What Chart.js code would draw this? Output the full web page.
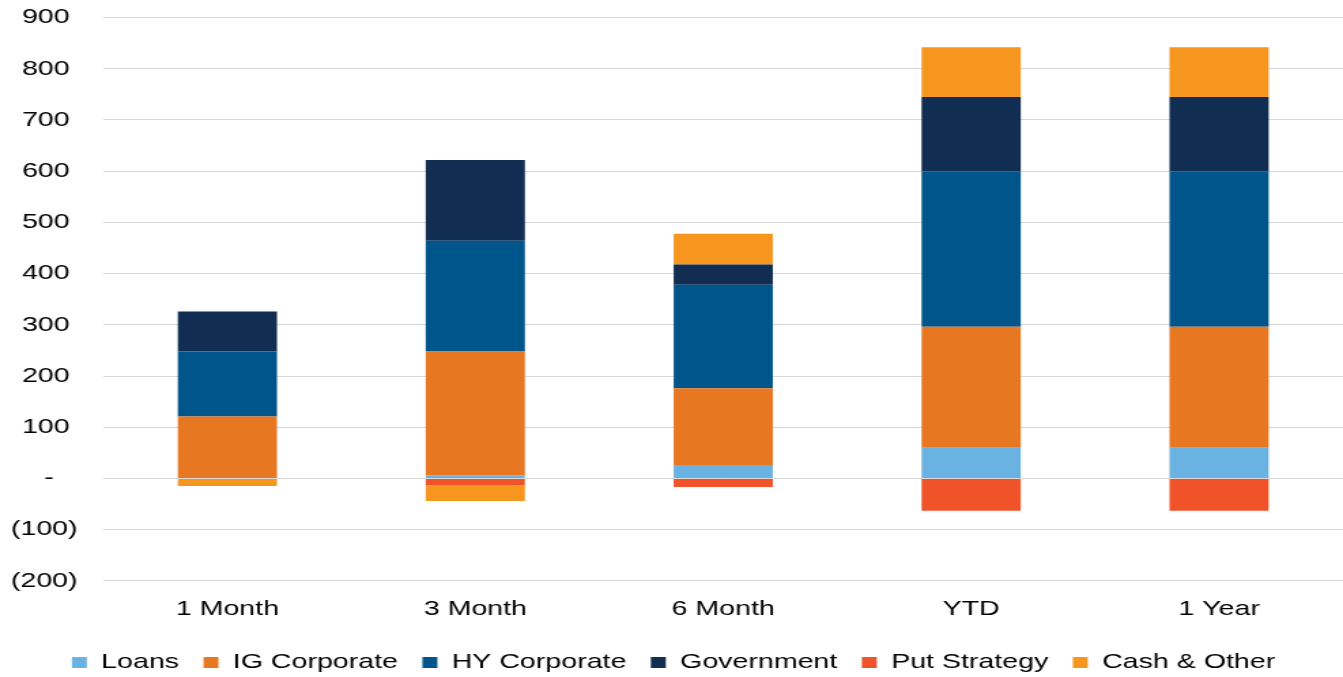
<!DOCTYPE html>
<html>
<head>
<meta charset="utf-8">
<script src="https://cdn.jsdelivr.net/npm/chart.js@4"></script>
<style>
  html, body { margin: 0; padding: 0; background: #ffffff; overflow: hidden; }
  /* el original esta estirado en horizontal: se dibuja mas angosto y se escala */
  #wrap { width: 987px; height: 677px; transform: scaleX(1.3607); transform-origin: 0 0; }
</style>
</head>
<body>
<div id="wrap"><canvas id="flows" width="987" height="677"></canvas></div>
<script>
// categorias y valores
const periods = ["1 Month", "3 Month", "6 Month", "YTD", "1 Year"];
const loans = [0, 6, 26, 60, 60];
const igCorporate = [121, 242, 150, 236, 236];
const hyCorporate = [127, 216, 202, 304, 304];
const government = [78, 158, 40, 145, 145];
const putStrategy = [0, -13, -17, -63, -63];
const cashOther = [-15, -31, 60, 97, 97];

const seriesNames = ["Loans", "IG Corporate", "HY Corporate", "Government", "Put Strategy", "Cash & Other"];
const seriesColors = ["#6AB2E2", "#E87722", "#00568A", "#112D51", "#F0522A", "#F7961E"];
const seriesValues = [loans, igCorporate, hyCorporate, government, putStrategy, cashOther];

const yTicks = [-200, -100, 0, 100, 200, 300, 400, 500, 600, 700, 800, 900];

Chart.defaults.font.family = "'Liberation Sans', Arial, sans-serif";
Chart.defaults.color = "#000000";

var ctx = document.getElementById("flows").getContext("2d");
var flowsChart = new Chart(ctx, {
  type: "bar",
  data: {
    labels: periods,
    datasets: seriesNames.map((name, i) => ({
      label: name,
      data: seriesValues[i],
      backgroundColor: seriesColors[i],
      borderWidth: 0,
      categoryPercentage: 1,
      barPercentage: 0.4,
    })),
  },
  options: {
    responsive: false,
    devicePixelRatio: 1,
    animation: false,
    layout: {
      padding: { left: 3, right: 0, top: 0, bottom: -6 },
    },
    scales: {
      x: {
        stacked: true,
        grid: { display: false },
        border: { display: false },
        ticks: { font: { size: 21 }, padding: 8 },
        afterFit: function (axis) {
          axis.height += 4; // separar un poco la leyenda
        },
      },
      y: {
        stacked: true,
        min: -200,
        max: 900,
        afterBuildTicks: function (axis) {
          axis.ticks = yTicks.map((v) => ({ value: v }));
        },
        grid: {
          color: "#D9D9D9",
          lineWidth: 1,
          drawTicks: true,
          tickLength: 14,
          tickColor: "rgba(0,0,0,0)",
        },
        border: { display: false },
        ticks: {
          font: { size: 21 },
          padding: 5,
          // formato contable: positivos con espacio final, cero como guion
          callback: function (value) {
            if (value === 0) return "-   ";
            if (value < 0) return "(" + Math.abs(value) + ")";
            return value + " ";
          },
        },
      },
    },
    plugins: {
      legend: {
        position: "bottom",
        labels: {
          font: { size: 21 },
          boxWidth: 11,
          boxHeight: 11,
          padding: 18,
        },
      },
      tooltip: { enabled: false },
    },
  },
});
</script>
</body>
</html>
